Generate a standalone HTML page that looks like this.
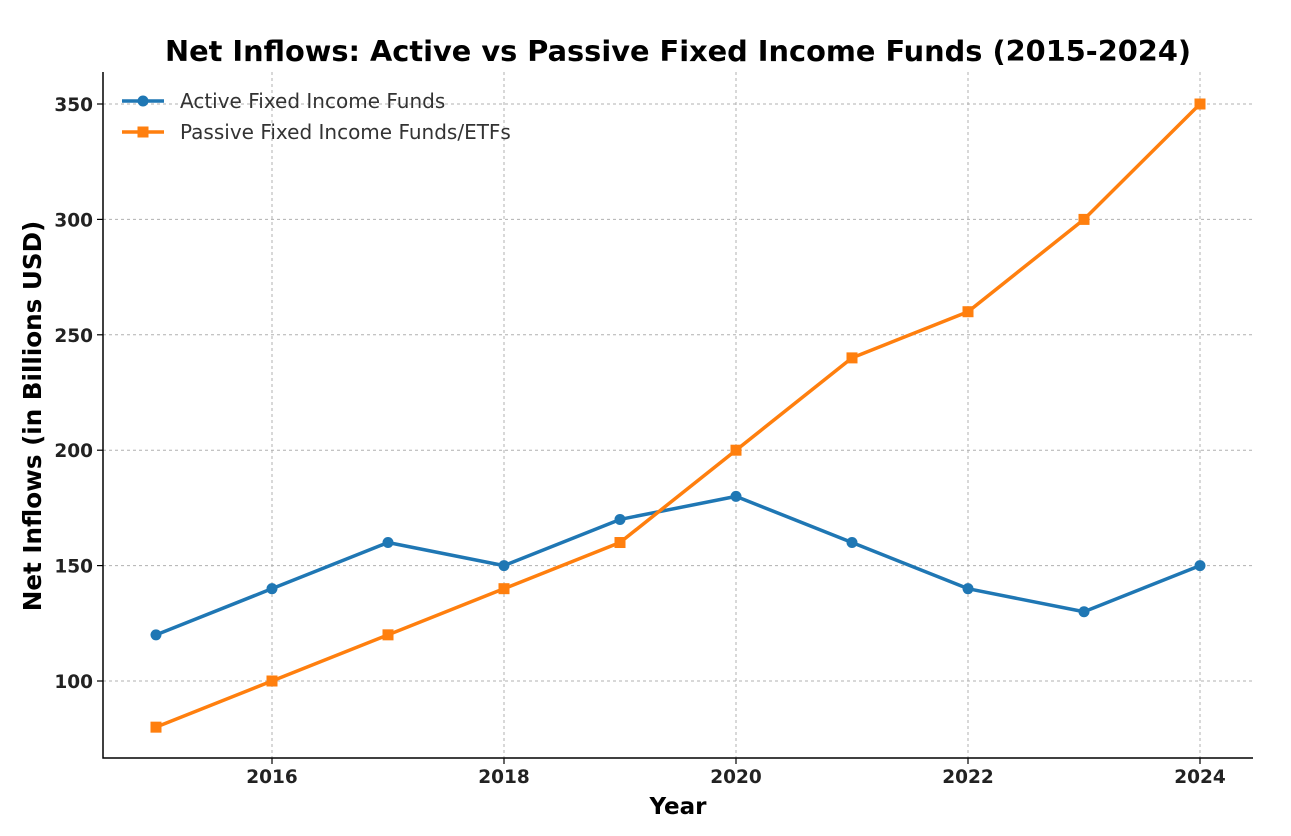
<!DOCTYPE html>
<html><head><meta charset="utf-8"><style>
body{margin:0;background:#fff;}
svg{display:block;font-family:"DejaVu Sans","Liberation Sans",sans-serif;}
</style></head><body>
<svg id="chart" width="1291" height="836">
<text x="678" y="61" text-anchor="middle" font-size="28.8" font-weight="bold" fill="#000">Net Inflows: Active vs Passive Fixed Income Funds (2015-2024)</text>
<g id="grid"></g>
<g id="axes"></g>
<g id="series"></g>
<text x="678" y="814" text-anchor="middle" font-size="23" font-weight="bold">Year</text>
<text transform="translate(41,416) rotate(-90)" text-anchor="middle" font-size="24.6" font-weight="bold">Net Inflows (in Billions USD)</text>
<g>
<g>
<line x1="122" y1="101" x2="164" y2="101" stroke="#1f77b4" stroke-width="3.5"/><circle cx="143" cy="101" r="5.5" fill="#1f77b4"/>
<text x="180" y="108" font-size="20" fill="#333">Active Fixed Income Funds</text></g>
<g>
<line x1="122" y1="132" x2="164" y2="132" stroke="#ff7f0e" stroke-width="3.5"/><rect x="137.5" y="126.5" width="11" height="11" fill="#ff7f0e"/>
<text x="180" y="139" font-size="20" fill="#333">Passive Fixed Income Funds/ETFs</text></g>
</g>
</svg>
<script>
const years=[2015,2016,2017,2018,2019,2020,2021,2022,2023,2024];
const activeValues=[120,140,160,150,170,180,160,140,130,150];
const passiveValues=[80,100,120,140,160,200,240,260,300,350];
const xTicks=[2016,2018,2020,2022,2024];
const yTicks=[100,150,200,250,300,350];
const L=103,R=1253,T=72,B=758;
const xs=v=>156+(v-2015)*116;
const ys=v=>681-(v-100)*(577/250);
const NS="http://www.w3.org/2000/svg";
function mk(tag,attrs,parent,text){const e=document.createElementNS(NS,tag);for(const k in attrs)e.setAttribute(k,attrs[k]);if(text!==undefined)e.textContent=text;parent.appendChild(e);return e;}
const grid=document.getElementById('grid'),axes=document.getElementById('axes'),ser=document.getElementById('series');
xTicks.forEach(t=>{const x=xs(t);
const g=mk('line',{x1:x,x2:x,y1:T,y2:B,stroke:'#b0b0b0','stroke-width':1,'stroke-dasharray':'3,3'},grid);


mk('line',{x1:x,x2:x,y1:B,y2:B+6,stroke:'#000','stroke-width':1.2},axes);
const l=mk('text',{x:x,y:B+25,'text-anchor':'middle','font-size':18.5,'font-weight':'bold',fill:'#222'},axes,t);

});
yTicks.forEach(t=>{const y=ys(t);
const g=mk('line',{x1:L,x2:R,y1:y,y2:y,stroke:'#b0b0b0','stroke-width':1,'stroke-dasharray':'3,3'},grid);


mk('line',{x1:L-6,x2:L,y1:y,y2:y,stroke:'#000','stroke-width':1.2},axes);
const l=mk('text',{x:L-10,y:y+7,'text-anchor':'end','font-size':18.5,'font-weight':'bold',fill:'#222'},axes,t);

});
const ax=mk('path',{d:`M${L},${T}V${B}H${R}`,fill:'none',stroke:'#000','stroke-width':1.5},axes);


function series(vals,color,marker,name){
const p=mk('polyline',{points:vals.map((v,i)=>xs(years[i])+','+ys(v)).join(' '),fill:'none',stroke:color,'stroke-width':3.5,'stroke-linejoin':'round'},ser);


vals.forEach((v,i)=>{let m;
if(marker==='c')m=mk('circle',{cx:xs(years[i]),cy:ys(v),r:5.5,fill:color},ser);
else m=mk('rect',{x:xs(years[i])-5.5,y:ys(v)-5.5,width:11,height:11,fill:color},ser);

});}
series(activeValues,'#1f77b4','c','active');
series(passiveValues,'#ff7f0e','s','passive');
</script>
</body></html>
